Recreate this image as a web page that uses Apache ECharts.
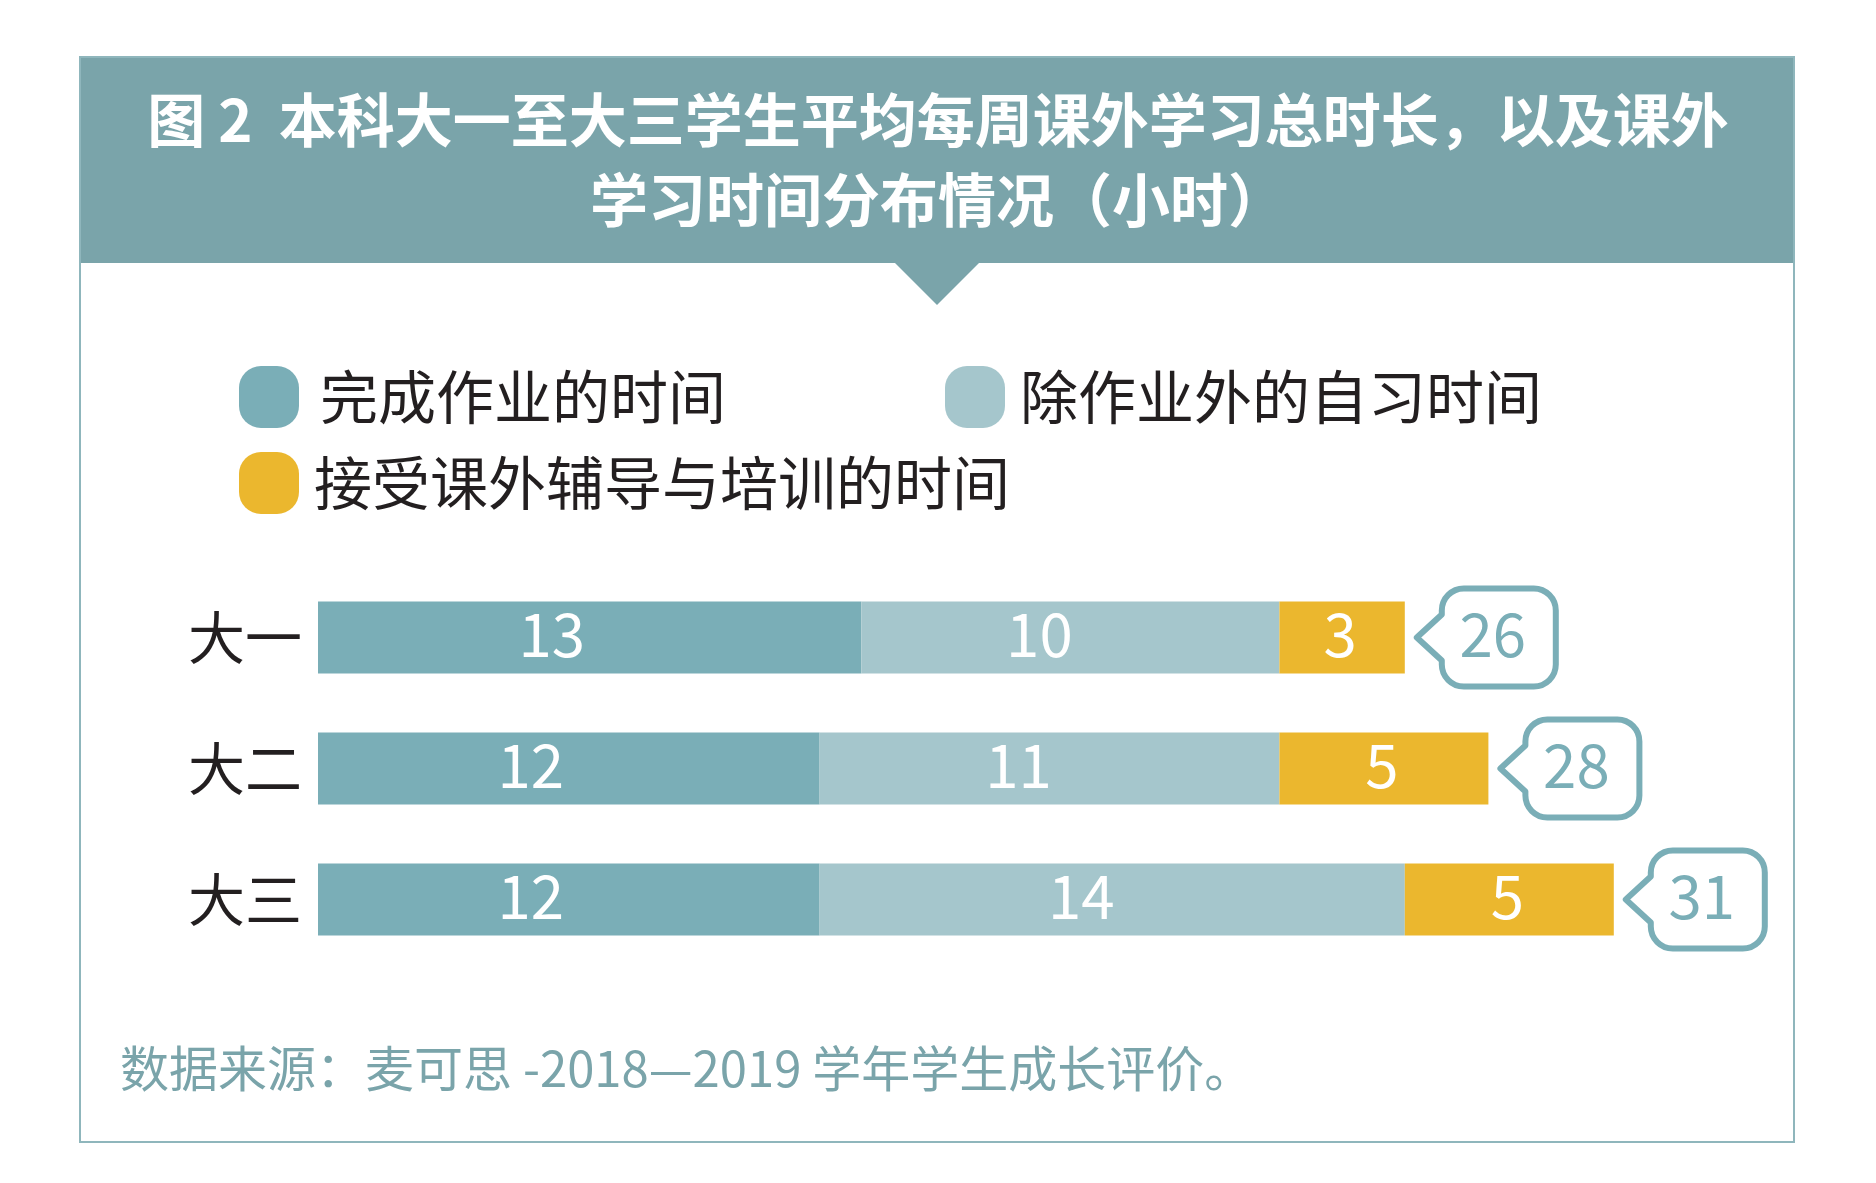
<!DOCTYPE html>
<html><head><meta charset="utf-8">
<script src="https://cdn.jsdelivr.net/npm/echarts@6/dist/echarts.min.js"></script>
<style>html,body{margin:0;padding:0;background:#fff}#c{width:1876px;height:1183px}</style>
</head><body><div id="c"></div>
<script>
const categories = ['大一', '大二', '大三'];
const seriesNames = ['完成作业的时间', '除作业外的自习时间', '接受课外辅导与培训的时间'];
const homework = [13, 12, 12];
const selfStudy = [10, 11, 14];
const tutoring = [3, 5, 5];
const totals = [26, 28, 31];

const C_DARK = '#7AAEB7', C_LIGHT = '#A5C6CC', C_YEL = '#EBB72E', C_HEAD = '#7AA4AA';
const FONT = '"Noto Sans CJK SC", "Noto Sans", sans-serif';
const ICON = 'path://M22,0 H38 A22,22 0 0 1 60,22 V40 A22,22 0 0 1 38,62 H22 A22,22 0 0 1 0,40 V22 A22,22 0 0 1 22,0 Z';

const chart = echarts.init(document.getElementById('c'), null, {renderer: 'canvas'});

function legendAt(name, left, top, gap) {
  return {
    data: [{name: name, icon: ICON}],
    left: left, top: top, padding: 0,
    itemWidth: 60, itemHeight: 62,
    selectedMode: false,
    textStyle: {fontFamily: FONT, fontSize: 58, color: '#231F20', lineHeight: 62, padding: [0, 0, 0, gap]}
  };
}

const barLabel = (off) => ({
  show: true, position: 'inside', offset: off,
  color: '#fff', fontFamily: FONT, fontSize: 60
});

const option = {
  backgroundColor: '#fff',
  animation: false,
  textStyle: {fontFamily: FONT},
  graphic: [
    {type: 'rect', shape: {x: 79, y: 56, width: 1716, height: 207}, style: {fill: C_HEAD}, z: 0},
    {type: 'polygon', shape: {points: [[894, 262], [980, 262], [937, 305]]}, style: {fill: C_HEAD}, z: 0},
    {type: 'rect', shape: {x: 80, y: 57, width: 1714, height: 1085}, style: {fill: 'none', stroke: '#8FB6BC', lineWidth: 2}, z: 0}
  ],
  title: [
    {
      text: '图 2  本科大一至大三学生平均每周课外学习总时长，以及课外\n学习时间分布情况（小时）',
      left: 'center', top: 80, padding: 0,
      textStyle: {color: '#fff', fontFamily: FONT, fontSize: 58, fontWeight: 'bold', lineHeight: 80, align: 'center'}
    },
    {
      text: '数据来源：麦可思 -2018—2019 学年学生成长评价。',
      left: 120, top: 1040, padding: 0,
      textStyle: {color: C_HEAD, fontFamily: FONT, fontSize: 49, fontWeight: 'normal', lineHeight: 56}
    }
  ],
  legend: [
    legendAt(seriesNames[0], 239, 366, 16),
    legendAt(seriesNames[1], 945, 366, 10),
    legendAt(seriesNames[2], 239, 452, 10)
  ],
  grid: {left: 318, top: 572, width: 1463, height: 393, containLabel: false},
  xAxis: {type: 'value', min: 0, max: 35, show: false},
  yAxis: {
    type: 'category', data: categories, inverse: true,
    axisLine: {show: false}, axisTick: {show: false}, splitLine: {show: false},
    axisLabel: {color: '#231F20', fontFamily: FONT, fontSize: 57, margin: 16}
  },
  series: [
    {name: seriesNames[0], type: 'bar', stack: 'total', data: homework, barWidth: 72,
     itemStyle: {color: C_DARK}, label: barLabel([-38, -3])},
    {name: seriesNames[1], type: 'bar', stack: 'total', data: selfStudy, barWidth: 72,
     itemStyle: {color: C_LIGHT}, label: barLabel([-31, -3])},
    {name: seriesNames[2], type: 'bar', stack: 'total', data: tutoring, barWidth: 72,
     itemStyle: {color: C_YEL}, label: barLabel([-2, -3])},
    {
      name: 'total', type: 'custom', z: 5,
      data: totals.map((t, i) => [t, i]),
      encode: {x: 0, y: 1},
      renderItem: function (params, api) {
        const p = api.coord([api.value(0), api.value(1)]);
        const tx = p[0] + 12, y = p[1];
        const L = tx + 25, R = L + 114, T = y - 49, B = y + 49, r = 22;
        const d = 'M' + (L + r) + ',' + T + ' H' + (R - r) +
          ' A' + r + ',' + r + ' 0 0 1 ' + R + ',' + (T + r) +
          ' V' + (B - r) +
          ' A' + r + ',' + r + ' 0 0 1 ' + (R - r) + ',' + B +
          ' H' + (L + r) +
          ' A' + r + ',' + r + ' 0 0 1 ' + L + ',' + (B - r) +
          ' V' + (y + 23) + ' L' + tx + ',' + y + ' L' + L + ',' + (y - 23) +
          ' V' + (T + r) +
          ' A' + r + ',' + r + ' 0 0 1 ' + (L + r) + ',' + T + ' Z';
        return {
          type: 'group',
          children: [
            {type: 'path', shape: {pathData: d}, style: {fill: '#fff', stroke: C_DARK, lineWidth: 6, lineJoin: 'round'}},
            {type: 'text', style: {x: (L + R) / 2 - 6, y: y - 3, text: String(api.value(0)), fill: C_DARK,
              font: '60px ' + FONT, align: 'center', verticalAlign: 'middle'}}
          ]
        };
      }
    }
  ]
};
chart.setOption(option);
</script></body></html>
